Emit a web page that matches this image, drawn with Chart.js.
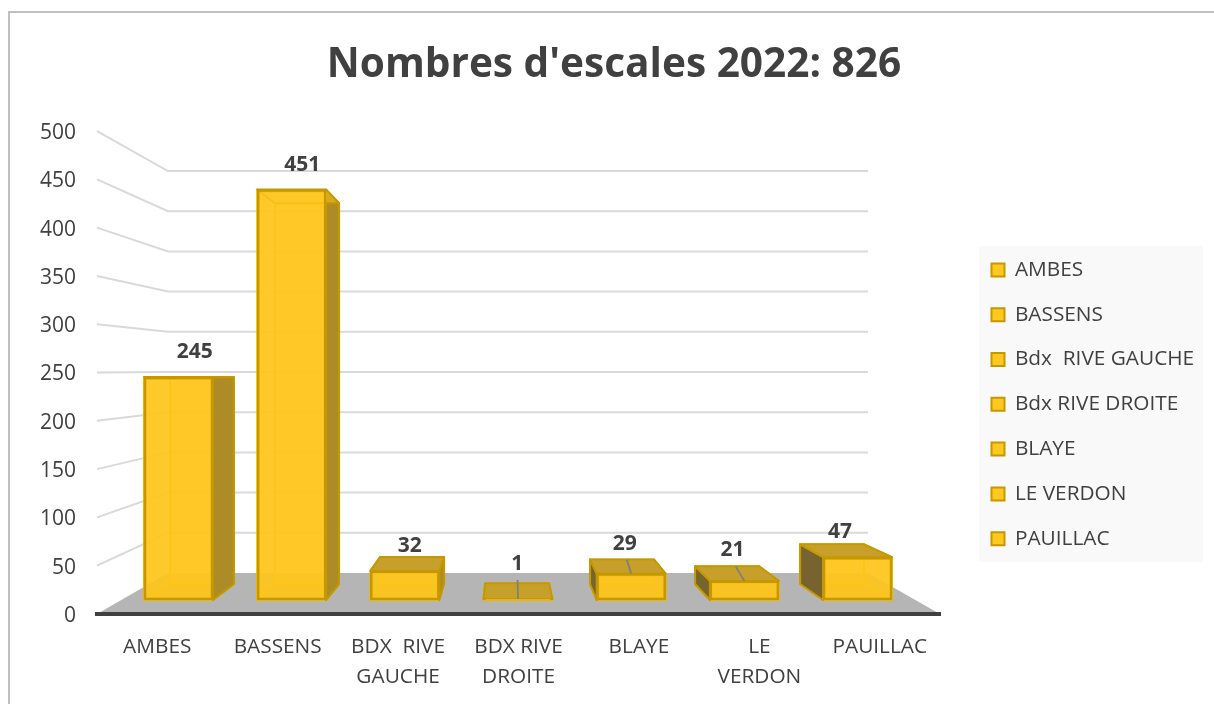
<!DOCTYPE html>
<html><head><meta charset="utf-8">
<style>html,body{margin:0;padding:0;background:#fff;overflow:hidden}canvas{display:block}</style>
<script src="https://cdn.jsdelivr.net/npm/chart.js@4"></script></head>
<body><canvas id="c" width="1214" height="704" style="width:1214px;height:704px"></canvas>
<script>
const chartTitle = "Nombres d'escales 2022: 826";
const categories = ['AMBES','BASSENS',['BDX  RIVE','GAUCHE'],['BDX RIVE','DROITE'],'BLAYE',['LE','VERDON'],'PAUILLAC'];
const legendLabels = ['AMBES','BASSENS','Bdx  RIVE GAUCHE','Bdx RIVE DROITE','BLAYE','LE VERDON','PAUILLAC'];
const values = [245,451,32,1,29,21,47];

const FONT = '"Open Sans"', TXT = '#404040';
const VX = 505, VY = 378, K = 0.928;
const backPt = (x,y) => [VX+K*(x-VX), VY+K*(y-VY)];
const poly = (ctx,pts,fill,stroke,lw) => {
  ctx.beginPath(); pts.forEach((p,i)=> i?ctx.lineTo(p[0],p[1]):ctx.moveTo(p[0],p[1])); ctx.closePath();
  if(fill){ctx.fillStyle=fill;ctx.fill();}
  if(stroke){ctx.strokeStyle=stroke;ctx.lineWidth=lw;ctx.lineJoin='round';ctx.stroke();}
};
const scene = {
  id:'scene',
  afterLayout(chart){
    const l = chart.legend;
    if(l){ l.left = 967.5; l.right = l.left+l.width; l.top = 235.5; l.bottom = 580; }
    const t = chart.titleBlock;
    if(t){ t.left = 14; t.right = 1214; }
  },
  beforeDraw(chart){
    const ctx = chart.ctx, a = chart.chartArea, y = chart.scales.y;
    ctx.save();
    ctx.strokeStyle='#bfbfbf'; ctx.lineWidth=2;
    ctx.beginPath(); ctx.moveTo(9,704); ctx.lineTo(9,12); ctx.lineTo(1214,12); ctx.stroke();
    ctx.fillStyle='#f9f9f9'; ctx.fillRect(979,246,224,316);
    const bl=168, br=868, wallY = py => 171+(py-a.top)*(402/(a.bottom-a.top));
    poly(ctx,[[a.left,a.bottom],[bl,wallY(a.bottom)],[br,wallY(a.bottom)],[a.right,a.bottom]],'#b5b5b5');
    ctx.strokeStyle='#d9d9d9'; ctx.lineWidth=2;
    y.ticks.forEach(t=>{
      if(t.value===0) return;
      const py=y.getPixelForValue(t.value), by=wallY(py);
      ctx.beginPath(); ctx.moveTo(a.left,py); ctx.lineTo(bl,by); ctx.lineTo(br,by); ctx.stroke();
    });
    ctx.restore();
  },
  beforeDatasetsDraw(chart){
    const ctx = chart.ctx;
    ctx.save();
    chart.getDatasetMeta(0).data.forEach(el=>{
      const fL=el.x-el.width/2, fR=el.x+el.width/2, fT=el.y, fB=el.base;
      const bTL=backPt(fL,fT), bTR=backPt(fR,fT), bBL=backPt(fL,fB), bBR=backPt(fR,fB);
      const edge='#c49800', hidden='#f0b800';
      poly(ctx,[[fL,fB],[fR,fB],bBR,bBL],'rgba(240,185,20,0.45)',hidden,2);
      poly(ctx,[bTL,bTR,bBR,bBL],'rgba(255,200,30,0.55)',hidden,2);
      const rightSide=[[fR,fT],[fR,fB],bBR,bTR], leftSide=[[fL,fT],[fL,fB],bBL,bTL];
      if(fR<VX) poly(ctx,rightSide,'#ad8b27',edge,2); else poly(ctx,rightSide,'rgba(255,200,30,0.35)',hidden,2);
      if(fL>VX) poly(ctx,leftSide,'#77632d',edge,2); else poly(ctx,leftSide,'rgba(255,200,30,0.35)',hidden,2);
      const above = bTL[1] < fT;
      poly(ctx,[[fL,fT],[fR,fT],bTR,bTL],above?'#c7a02c':'rgba(255,200,30,0.5)',edge,2);
    });
    ctx.restore();
  },
  afterDatasetsDraw(chart){
    const ctx = chart.ctx;
    ctx.save();
    ctx.textAlign='center'; ctx.textBaseline='middle';
    ctx.font='bold 21px '+FONT;
    chart.getDatasetMeta(0).data.forEach((el,i)=>{
      const v=values[i], leader=v<30;
      if(leader){
        ctx.strokeStyle='#7f7f7f'; ctx.lineWidth=1.8;
        ctx.beginPath(); ctx.moveTo(el.x,el.y);
        ctx.lineTo(el.x+(VX-el.x)*0.035,el.y-(v<5?19:14)); ctx.stroke();
      }
      const dy = leader ? 29+(30-v)/5 : 25;
      ctx.fillStyle=TXT;
      ctx.fillText(String(v), el.x+(VX-el.x)*0.05, el.y-dy);
    });
    ctx.restore();
  }
};
const chart = new Chart(document.getElementById('c'),{
  type:'bar',
  plugins:[scene],
  data:{labels:categories,datasets:[{
    data:values.map((v,i)=>({x:i,y:v})),
    xAxisID:'xFront',yAxisID:'yFront',
    barThickness:69,
    backgroundColor:'rgba(255,197,25,0.88)',
    borderColor:'#c49800',borderWidth:2.5,borderSkipped:false
  }]},
  options:{
    responsive:false,animation:false,devicePixelRatio:1,
    layout:{padding:{left:0,right:0,top:0,bottom:0}},
    plugins:{
      tooltip:{enabled:false},
      title:{display:true,text:chartTitle,color:TXT,font:{family:FONT,size:40.6,weight:'bold',lineHeight:1.2},padding:{top:41,bottom:41.3}},
      legend:{position:'right',align:'start',
        labels:{boxWidth:13,boxHeight:13,padding:24,color:TXT,font:{family:FONT,size:20.8},
          generateLabels:()=>legendLabels.map((t,i)=>({text:t,fillStyle:'#ffc81e',strokeStyle:'#c49800',lineWidth:2,fontColor:TXT,index:i,datasetIndex:0,hidden:false}))}}
    },
    scales:{
      x:{type:'category',labels:categories,position:'bottom',offset:true,
        grid:{display:false,drawTicks:false},border:{display:true,color:TXT,width:4},
        ticks:{color:TXT,font:{family:FONT,size:20.8,lineHeight:1.44},padding:18,maxRotation:0,minRotation:0,autoSkip:false},
        afterFit(s){s.height=90;}},
      y:{type:'linear',position:'left',min:0,max:500,
        grid:{display:false,drawTicks:false},border:{display:false},
        ticks:{stepSize:50,color:TXT,font:{family:FONT,size:21},padding:21,labelOffset:2},
        afterFit(s){s.width=97;}},
      xFront:{type:'linear',axis:'x',display:false,offset:false,grid:{display:false},min:(97-178.5)/113.17,max:(940-178.5)/113.17},
      yFront:{type:'linear',axis:'y',display:false,grid:{display:false},min:-14/0.91,max:469/0.91}
    }
  }
});
chart.options.layout.padding.right = 274-chart.legend.width;
chart.update();
</script></body></html>
